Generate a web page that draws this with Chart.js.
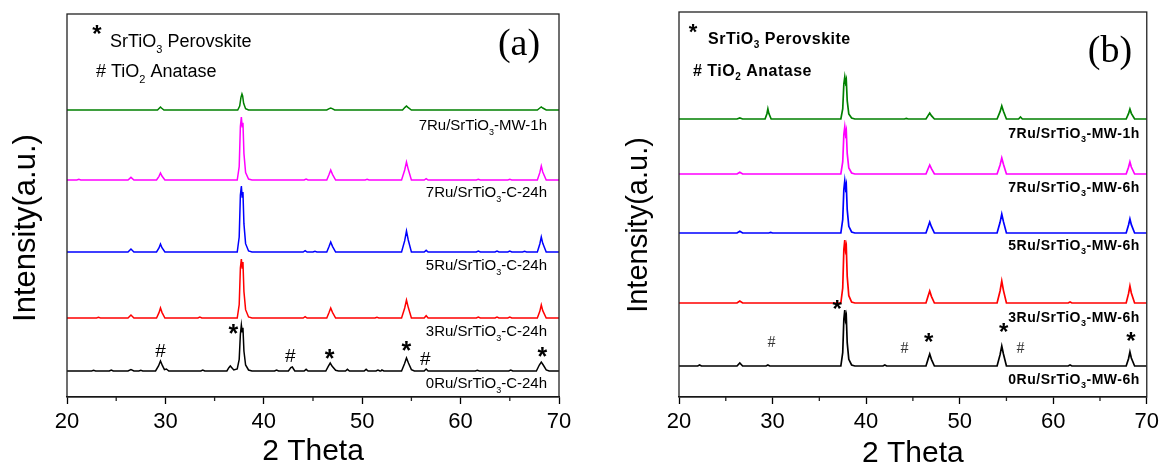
<!DOCTYPE html>
<html>
<head>
<meta charset="utf-8">
<script src="https://cdn.jsdelivr.net/npm/chart.js@4.4.0/dist/chart.umd.min.js"></script>
<style>
  body { margin: 0; background: #fff; }
  #wrap { position: relative; width: 1164px; height: 465px; }
  canvas { position: absolute; top: 0; }
</style>
</head>
<body>
<div id="wrap">
  <canvas id="chartA" width="580" height="465" style="left:0px"></canvas>
  <canvas id="chartB" width="584" height="465" style="left:580px"></canvas>
</div>
<script>
// ---- data: [2theta, intensity above baseline] ----
// panel (a)
const a0Ru = [[20,0],[22.5,0],[22.7,2],[22.9,0],[24.3,0],[24.5,3],[24.7,0],[26.2,0],[26.5,4],[26.8,0],[27.3,0],[27.5,2],[27.7,0],
  [29.0,0],[29.3,15],[29.5,30],[29.7,16],[29.9,4],[30.1,6],[30.35,0],[33.6,0],[33.8,3],[34.0,0],
  [36.25,0],[36.45,10],[36.6,15],[36.75,10],[36.95,3],[37.3,6],[37.5,35],[37.62,110],[37.72,138],[37.8,118],[37.88,130],[37.98,60],[38.15,18],[38.45,3],[38.8,0],
  [41.1,0],[41.3,3],[41.5,0],[42.5,0],[42.75,10],[42.9,12],[43.15,0],[44.1,0],[44.3,5],[44.5,0],
  [46.3,0],[46.55,14],[46.75,24],[46.95,14],[47.3,2],[47.6,0],[48.3,0],[48.5,5],[48.7,0],[50.2,0],[50.4,5],[50.6,0],
  [51.4,0],[51.6,3],[51.8,0],[51.9,0],[52.0,3],[52.2,0],[54.0,0],[54.3,22],[54.5,39],[54.7,24],[55.0,4],[55.3,0],
  [56.3,0],[56.5,6],[56.7,0],[61.5,0],[61.7,2],[61.9,0],[64.9,0],[65.1,3],[65.3,0],
  [67.7,0],[68.0,18],[68.2,27],[68.4,18],[68.7,3],[69.0,0],[70,0]];
const a3Ru = [[20,0],[23.0,0],[23.2,2],[23.4,0],[26.2,0],[26.5,9],[26.8,0],[29.1,0],[29.35,16],[29.5,30],[29.65,17],[29.95,0],
  [33.3,0],[33.5,3],[33.7,0],[37.3,0],[37.5,40],[37.62,150],[37.72,177],[37.8,150],[37.88,168],[37.98,80],[38.15,25],[38.45,3],[38.8,0],
  [44.0,0],[44.2,4],[44.4,0],[46.4,0],[46.62,16],[46.8,30],[46.98,17],[47.3,0],[51.3,0],[51.5,2],[51.7,0],
  [54.0,0],[54.32,30],[54.5,54],[54.68,32],[55.0,0],[56.3,0],[56.5,7],[56.7,0],[61.6,0],[61.8,3],[62.0,0],
  [63.5,0],[63.7,3],[63.9,0],[64.8,0],[65.0,3],[65.2,0],[67.8,0],[68.05,20],[68.2,39],[68.35,22],[68.7,0],[70,0]];
const a5Ru = [[20,0],[26.2,0],[26.5,9],[26.8,0],[29.1,0],[29.35,12],[29.5,24],[29.65,13],[29.95,0],
  [37.3,0],[37.5,45],[37.62,170],[37.72,198],[37.8,165],[37.88,180],[37.98,85],[38.15,25],[38.45,3],[38.8,0],
  [44.0,0],[44.2,4],[44.4,0],[45.0,0],[45.2,2],[45.4,0],[46.4,0],[46.62,16],[46.8,30],[46.98,17],[47.3,0],
  [54.0,0],[54.32,34],[54.5,63],[54.68,36],[55.0,0],[56.3,0],[56.5,5],[56.7,0],[61.6,0],[61.8,3],[62.0,0],
  [63.5,0],[63.7,3],[63.9,0],[64.8,0],[65.0,3],[65.2,0],[66.3,0],[66.5,2],[66.7,0],
  [67.8,0],[68.05,24],[68.2,45],[68.35,26],[68.7,0],[70,0]];
const a7Ru = [[20,0],[21.0,0],[21.2,2],[21.4,0],[26.2,0],[26.5,8],[26.8,0],[29.1,0],[29.35,11],[29.5,21],[29.65,12],[29.95,0],
  [37.3,0],[37.5,40],[37.62,160],[37.72,189],[37.8,160],[37.88,172],[37.98,80],[38.15,22],[38.45,3],[38.8,0],
  [44.1,0],[44.3,3],[44.5,0],[46.4,0],[46.62,16],[46.8,30],[46.98,17],[47.3,0],[50.3,0],[50.5,2],[50.7,0],
  [54.0,0],[54.32,30],[54.5,54],[54.68,32],[55.0,0],[56.3,0],[56.5,4],[56.7,0],[61.6,0],[61.8,2],[62.0,0],
  [64.8,0],[65.0,2],[65.2,0],[67.8,0],[68.05,22],[68.2,42],[68.35,24],[68.7,0],[70,0]];
const a7RuMW = [[20,0],[29.2,0],[29.4,6],[29.5,9],[29.6,6],[29.85,0],
  [37.35,0],[37.55,12],[37.68,38],[37.78,48],[37.85,42],[37.95,20],[38.15,4],[38.45,0],
  [46.4,0],[46.65,4],[46.8,6],[46.95,4],[47.2,0],[54.1,0],[54.35,8],[54.5,12],[54.65,8],[55.0,0],
  [67.8,0],[68.05,6],[68.2,9],[68.35,6],[68.7,0],[70,0]];

// panel (b)
const b0Ru = [[20,0],[22.0,0],[22.2,3],[22.4,0],[26.2,0],[26.5,9],[26.8,0],[29.3,0],[29.5,3],[29.7,0],
  [37.3,0],[37.5,40],[37.62,140],[37.72,168],[37.8,140],[37.88,150],[37.98,70],[38.15,20],[38.45,3],[38.8,0],
  [41.8,0],[42.0,3],[42.2,0],[46.4,0],[46.62,20],[46.8,36],[46.98,20],[47.3,0],
  [54.0,0],[54.32,34],[54.5,60],[54.68,36],[55.0,0],[61.6,0],[61.8,3],[62.0,0],
  [67.8,0],[68.05,22],[68.2,42],[68.35,24],[68.7,0],[70,0]];
const b3Ru = [[20,0],[26.2,0],[26.5,6],[26.8,0],
  [37.3,0],[37.5,45],[37.62,160],[37.72,189],[37.8,160],[37.88,170],[37.98,80],[38.15,22],[38.45,3],[38.8,0],
  [46.4,0],[46.62,20],[46.8,36],[46.98,20],[47.3,0],[54.0,0],[54.32,36],[54.5,66],[54.68,38],[55.0,0],
  [61.6,0],[61.8,3],[62.0,0],[67.8,0],[68.05,28],[68.2,51],[68.35,30],[68.7,0],[70,0]];
const b5Ru = [[20,0],[26.2,0],[26.5,5],[26.8,0],[29.6,0],[29.8,2],[30.0,0],
  [37.3,0],[37.5,40],[37.62,130],[37.72,156],[37.8,135],[37.88,145],[37.98,70],[38.15,20],[38.45,3],[38.8,0],
  [46.4,0],[46.62,18],[46.8,33],[46.98,19],[47.3,0],[54.0,0],[54.32,32],[54.5,57],[54.68,34],[55.0,0],
  [67.8,0],[68.05,24],[68.2,42],[68.35,25],[68.7,0],[70,0]];
const b7Ru = [[20,0],[26.2,0],[26.5,5],[26.8,0],
  [37.3,0],[37.5,36],[37.62,118],[37.72,141],[37.8,120],[37.88,130],[37.98,62],[38.15,18],[38.45,3],[38.8,0],
  [46.4,0],[46.62,15],[46.8,27],[46.98,16],[47.3,0],[54.0,0],[54.32,27],[54.5,48],[54.68,29],[55.0,0],
  [67.8,0],[68.05,20],[68.2,36],[68.35,21],[68.7,0],[70,0]];
const b7RuMW = [[20,0],[26.2,0],[26.5,3],[26.8,0],[29.2,0],[29.4,16],[29.5,30],[29.6,17],[29.85,0],
  [37.3,0],[37.5,30],[37.62,105],[37.72,126],[37.8,110],[37.88,118],[37.98,55],[38.15,15],[38.45,3],[38.8,0],
  [44.1,0],[44.3,2],[44.5,0],[46.4,0],[46.62,10],[46.8,18],[46.98,10],[47.3,0],
  [54.0,0],[54.32,22],[54.5,39],[54.68,23],[55.0,0],[56.3,0],[56.5,6],[56.7,0],
  [67.8,0],[68.05,16],[68.2,30],[68.35,17],[68.7,0],[70,0]];

const seriesA = [a0Ru, a3Ru, a5Ru, a7Ru, a7RuMW];
const seriesB = [b0Ru, b3Ru, b5Ru, b7Ru, b7RuMW];
const offsetsA = [78, 237, 435, 651, 861];
const offsetsB = [93, 282, 492, 669, 834];
const namesA = ['0Ru/SrTiO3-C-24h', '3Ru/SrTiO3-C-24h', '5Ru/SrTiO3-C-24h', '7Ru/SrTiO3-C-24h', '7Ru/SrTiO3-MW-1h'];
const namesB = ['0Ru/SrTiO3-MW-6h', '3Ru/SrTiO3-MW-6h', '5Ru/SrTiO3-MW-6h', '7Ru/SrTiO3-MW-6h', '7Ru/SrTiO3-MW-1h'];
const labelYA = [42, 198, 396, 615, 816];
const labelYB = [54, 240, 456, 630, 792];
const colors = ['#000000', '#ff0000', '#0000ff', '#ff00ff', '#008000'];
// phase marks [symbol, 2theta, y]
const marksA = [['#', 29.5, 135], ['*', 36.9, 201], ['#', 42.7, 120], ['*', 46.7, 126], ['*', 54.5, 150], ['#', 56.4, 111], ['*', 68.3, 132]];
const marksB = [['#', 29.9, 162], ['*', 36.9, 276], ['#', 44.1, 144], ['*', 46.7, 177], ['*', 54.7, 207], ['#', 56.5, 144], ['*', 68.3, 180]];
const xTicks = [20, 30, 40, 50, 60, 70];
const minorTicks = [25, 35, 45, 55, 65];

const SANS = '"Liberation Sans", Arial, sans-serif';
const SERIF = '"Liberation Serif", "Times New Roman", serif';

// split "SrTiO3" style text so the digit after O becomes a subscript
function subParts(str) {
  return str.split(/(?<=O)(\d)/).map((t, i) => [t, i % 2 === 1]);
}

function richText(ctx, str, x, cy, size, weight, align, spacing) {
  const parts = subParts(str);
  const main = `${weight} ${size}px ${SANS}`;
  const sub = `${weight} ${Math.round(size * 0.62)}px ${SANS}`;
  ctx.letterSpacing = (spacing || 0) + 'px';
  let w = 0;
  parts.forEach(p => { ctx.font = p[1] ? sub : main; w += ctx.measureText(p[0]).width; });
  let cx = align === 'right' ? x - w : x;
  const base = cy + size * 0.36;
  ctx.textAlign = 'left';
  ctx.textBaseline = 'alphabetic';
  parts.forEach(p => {
    ctx.font = p[1] ? sub : main;
    ctx.fillText(p[0], cx, p[1] ? base + size * 0.28 : base);
    cx += ctx.measureText(p[0]).width;
  });
  ctx.letterSpacing = '0px';
}

function decor(cfg) {
  return {
    id: 'decor',
    afterDraw(chart) {
      const { ctx, chartArea: a, scales: { x, y } } = chart;
      ctx.save();
      ctx.strokeStyle = '#222';
      ctx.lineWidth = 1.3;
      ctx.strokeRect(a.left, a.top, a.right - a.left, a.bottom - a.top);
      ctx.beginPath();
      minorTicks.forEach(v => {
        const px = x.getPixelForValue(v);
        ctx.moveTo(px, a.bottom);
        ctx.lineTo(px, a.bottom + 4);
      });
      ctx.stroke();

      ctx.fillStyle = '#000';
      cfg.names.forEach((n, i) => {
        richText(ctx, n, a.right - cfg.labelInset, y.getPixelForValue(cfg.labelY[i]), cfg.labelSize, cfg.labelWeight, 'right', cfg.labelSpacing);
      });

      cfg.marks.forEach(m => {
        const px = x.getPixelForValue(m[1]);
        const py = y.getPixelForValue(m[2]);
        ctx.textAlign = 'center';
        ctx.textBaseline = 'middle';
        if (m[0] === '*') {
          ctx.font = `bold ${cfg.starSize}px ${SANS}`;
          ctx.fillStyle = '#000';
          ctx.fillText('*', px, py + cfg.starSize * 0.22);
        } else {
          ctx.font = cfg.hashFont;
          ctx.fillStyle = cfg.hashColor;
          ctx.fillText('#', px, py);
        }
      });

      // phase legend
      ctx.fillStyle = '#000';
      ctx.textAlign = 'center';
      ctx.textBaseline = 'middle';
      ctx.font = `bold ${cfg.legStar[2]}px ${SANS}`;
      ctx.fillText('*', cfg.legStar[0], cfg.legStar[1] + cfg.legStar[2] * 0.22);
      richText(ctx, 'SrTiO3 Perovskite', cfg.leg1[0], cfg.leg1[1], cfg.legSize, cfg.legWeight, 'left', cfg.legSpacing);
      richText(ctx, '# TiO2 Anatase', cfg.leg2[0], cfg.leg2[1], cfg.legSize, cfg.legWeight, 'left', cfg.legSpacing);

      // panel letter
      ctx.font = `${cfg.panel[3]}px ${SERIF}`;
      ctx.textAlign = 'center';
      ctx.textBaseline = 'middle';
      ctx.fillText(cfg.panel[0], cfg.panel[1], cfg.panel[2]);

      // y title
      ctx.translate(cfg.yTitle[0], cfg.yTitle[1]);
      ctx.rotate(-Math.PI / 2);
      ctx.font = `${cfg.yTitle[2]}px ${SANS}`;
      ctx.fillText('Intensity(a.u.)', 0, 0);
      ctx.restore();
    }
  };
}

function makeChart(id, series, offsets, ymax, pad, cfg) {
  const datasets = series.map((s, i) => ({
    label: cfg.names[i],
    data: s.map(p => ({ x: p[0], y: p[1] + offsets[i] })),
    borderColor: colors[i],
    borderWidth: cfg.lineWidth,
    pointRadius: 0,
    showLine: true,
    tension: 0,
    fill: false
  }));
  return new Chart(document.getElementById(id), {
    type: 'scatter',
    data: { datasets },
    options: {
      responsive: false,
      animation: false,
      devicePixelRatio: 1,
      layout: { padding: pad },
      plugins: { legend: { display: false }, tooltip: { enabled: false } },
      scales: {
        x: {
          type: 'linear', min: 20, max: 70,
          afterFit: s => { s.height = 68; },
          afterBuildTicks: s => { s.ticks = xTicks.map(v => ({ value: v })); },
          border: { display: true, color: '#000', width: 1.3 },
          grid: { drawOnChartArea: false, drawTicks: true, tickLength: 7, tickColor: '#000', tickWidth: 1.3 },
          ticks: { color: '#000', font: { family: SANS, size: 22 }, padding: 5, maxRotation: 0, autoSkip: false },
          title: { display: true, text: '2 Theta', color: '#000', font: { family: SANS, size: 30, lineHeight: 1 }, padding: { top: 0, bottom: cfg.xTitlePad } }
        },
        y: { type: 'linear', min: 0, max: ymax, display: false }
      }
    },
    plugins: [decor(cfg)]
  });
}

makeChart('chartA', seriesA, offsetsA, 1149, { left: 67, right: 21, top: 14, bottom: 0 }, {
  names: namesA, labelY: labelYA, labelInset: 12, labelSize: 15, labelWeight: 'normal', labelSpacing: 0,
  marks: marksA, starSize: 25, hashFont: `19px ${SANS}`, hashColor: '#000',
  legStar: [97, 30, 24], leg1: [110, 41], leg2: [96, 71], legSize: 18, legWeight: 'normal', legSpacing: 0,
  panel: ['(a)', 519, 45, 38], yTitle: [26, 228, 31], lineWidth: 1.5, xTitlePad: -2
});

makeChart('chartB', seriesB, offsetsB, 1155, { left: 99, right: 14, top: 12, bottom: 0 }, {
  names: namesB, labelY: labelYB, labelInset: 7, labelSize: 14, labelWeight: 'bold', labelSpacing: 0.5,
  marks: marksB, starSize: 24, hashFont: `16px ${SERIF}`, hashColor: '#333',
  legStar: [113, 28, 22], leg1: [128, 38], leg2: [113, 70], legSize: 16, legWeight: 'bold', legSpacing: 0.5,
  panel: ['(b)', 530, 52, 38], yTitle: [59, 225, 29], lineWidth: 1.7, xTitlePad: -4
});
</script>
</body>
</html>
